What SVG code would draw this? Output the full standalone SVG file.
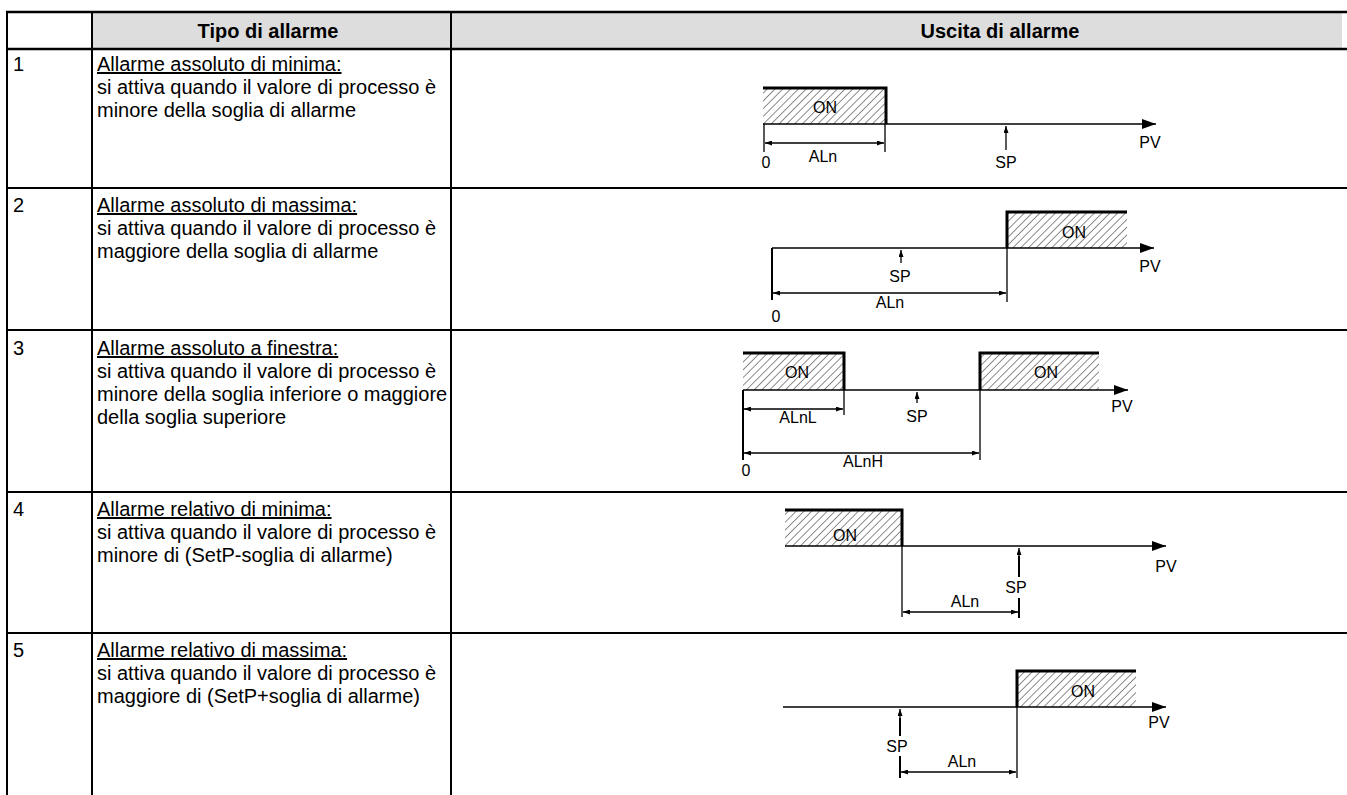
<svg xmlns="http://www.w3.org/2000/svg" width="1347" height="795" viewBox="0 0 1347 795">
<style>
.t{font-family:"Liberation Sans",Arial,sans-serif;font-size:20px;fill:#000}
.h{font-family:"Liberation Sans",Arial,sans-serif;font-size:20px;font-weight:bold;fill:#000;text-anchor:middle}
.u{text-decoration:underline}
.d{font-family:"Liberation Sans",Arial,sans-serif;font-size:16px;fill:#000;text-anchor:middle}
.b{stroke:#000;stroke-width:2.5;fill:none}
.g{stroke:#000;stroke-width:2;fill:none}
.thin{stroke:#000;stroke-width:1.3;fill:none}
.thk{stroke:#000;stroke-width:3;fill:none}
</style>
<defs>
<pattern id="hatch" patternUnits="userSpaceOnUse" width="5.5" height="5.5" patternTransform="rotate(45)">
<line x1="0" y1="0" x2="0" y2="5.5" stroke="#000" stroke-width="0.9"/>
</pattern>
<marker id="ax" markerUnits="userSpaceOnUse" markerWidth="14" markerHeight="10" refX="14" refY="5" orient="auto"><path d="M0,0 L14,5 L0,10 z" fill="#000"/></marker>
<marker id="dm" markerUnits="userSpaceOnUse" markerWidth="7" markerHeight="5" refX="7" refY="2.5" orient="auto-start-reverse"><path d="M0,0 L7,2.5 L0,5 z" fill="#000"/></marker>
</defs>
<g id="table">
<rect x="92" y="12" width="1250" height="37" fill="#dddddd"/>
<path class="b" d="M6,12 H1347 M6,49 H1347"/>
<path class="g" d="M6,188 H1347 M6,330 H1347 M6,492 H1347 M6,633 H1347"/>
<path class="g" d="M7,12 V795 M92,12 V795 M451,12 V795"/>
<text class="h" x="268" y="38">Tipo di allarme</text>
<text class="h" x="1000" y="38">Uscita di allarme</text>
</g>
<g id="row1">
<text class="t" x="13" y="71">1</text>
<text class="t u" x="97" y="71">Allarme assoluto di minima:</text>
<text class="t" x="97" y="94">si attiva quando il valore di processo è</text>
<text class="t" x="97" y="117">minore della soglia di allarme</text>
</g>
<g id="row2">
<text class="t" x="13" y="212">2</text>
<text class="t u" x="97" y="212">Allarme assoluto di massima:</text>
<text class="t" x="97" y="235">si attiva quando il valore di processo è</text>
<text class="t" x="97" y="258">maggiore della soglia di allarme</text>
</g>
<g id="row3">
<text class="t" x="13" y="355">3</text>
<text class="t u" x="97" y="355">Allarme assoluto a finestra:</text>
<text class="t" x="97" y="378">si attiva quando il valore di processo è</text>
<text class="t" x="97" y="401">minore della soglia inferiore o maggiore</text>
<text class="t" x="97" y="424">della soglia superiore</text>
</g>
<g id="row4">
<text class="t" x="13" y="516">4</text>
<text class="t u" x="97" y="516">Allarme relativo di minima:</text>
<text class="t" x="97" y="539">si attiva quando il valore di processo è</text>
<text class="t" x="97" y="562">minore di (SetP-soglia di allarme)</text>
</g>
<g id="row5">
<text class="t" x="13" y="657">5</text>
<text class="t u" x="97" y="657">Allarme relativo di massima:</text>
<text class="t" x="97" y="680">si attiva quando il valore di processo è</text>
<text class="t" x="97" y="703">maggiore di (SetP+soglia di allarme)</text>
</g>
<g id="diagram1">
<rect x="763" y="88" width="123" height="36" fill="url(#hatch)"/>
<path class="thk" d="M763,88 H886 V124"/>
<line class="thin" x1="763" y1="124" x2="1156" y2="124" marker-end="url(#ax)"/>
<path class="thin" d="M764,124 V152 M885,124 V152"/>
<line class="thin" x1="765" y1="143" x2="884" y2="143" marker-start="url(#dm)" marker-end="url(#dm)"/>
<line class="thin" x1="1006" y1="150" x2="1006" y2="126" marker-end="url(#dm)"/>
<text class="d" x="825" y="113">ON</text>
<text class="d" x="823" y="162">ALn</text>
<text class="d" x="766" y="168">0</text>
<text class="d" x="1006" y="168">SP</text>
<text class="d" x="1150" y="148">PV</text>
</g>
<g id="diagram2">
<rect x="1007" y="212" width="120" height="36" fill="url(#hatch)"/>
<path class="thk" d="M1007,248 V212 H1127"/>
<line class="thin" x1="772" y1="248" x2="1154" y2="248" marker-end="url(#ax)"/>
<path class="g" d="M772,248 V300"/>
<path class="thin" d="M1007,248 V302"/>
<line class="thin" x1="773" y1="293" x2="1006" y2="293" marker-start="url(#dm)" marker-end="url(#dm)"/>
<line class="thin" x1="901" y1="263" x2="901" y2="250" marker-end="url(#dm)"/>
<text class="d" x="1074" y="238">ON</text>
<text class="d" x="890" y="308">ALn</text>
<text class="d" x="776" y="322">0</text>
<text class="d" x="900" y="282">SP</text>
<text class="d" x="1150" y="272">PV</text>
</g>
<g id="diagram3">
<rect x="743" y="353" width="101" height="37" fill="url(#hatch)"/>
<rect x="980" y="353" width="119" height="37" fill="url(#hatch)"/>
<path class="thk" d="M743,353 H844 V390 M980,390 V353 H1099"/>
<line class="thin" x1="743" y1="390" x2="1128" y2="390" marker-end="url(#ax)"/>
<path class="g" d="M743,390 V460"/>
<path class="thin" d="M844,390 V415 M980,390 V460"/>
<line class="thin" x1="744" y1="409" x2="843" y2="409" marker-start="url(#dm)" marker-end="url(#dm)"/>
<line class="thin" x1="744" y1="453" x2="979" y2="453" marker-start="url(#dm)" marker-end="url(#dm)"/>
<line class="thin" x1="917" y1="403" x2="917" y2="392" marker-end="url(#dm)"/>
<text class="d" x="797" y="378">ON</text>
<text class="d" x="1046" y="378">ON</text>
<text class="d" x="798" y="423">ALnL</text>
<text class="d" x="863" y="467">ALnH</text>
<text class="d" x="746" y="476">0</text>
<text class="d" x="917" y="422">SP</text>
<text class="d" x="1122" y="412">PV</text>
</g>
<g id="diagram4">
<rect x="785" y="510" width="117" height="36" fill="url(#hatch)"/>
<path class="thk" d="M785,510 H902 V546"/>
<line class="thin" x1="785" y1="546" x2="1166" y2="546" marker-end="url(#ax)"/>
<path class="thin" d="M902,546 V617"/>
<path class="g" d="M1019,618 V598 M1019,577 V556"/>
<line class="thin" x1="1019" y1="560" x2="1019" y2="548" marker-end="url(#dm)"/>
<line class="thin" x1="903" y1="612" x2="1018" y2="612" marker-start="url(#dm)" marker-end="url(#dm)"/>
<text class="d" x="845" y="541">ON</text>
<text class="d" x="965" y="607">ALn</text>
<text class="d" x="1016" y="593">SP</text>
<text class="d" x="1166" y="572">PV</text>
</g>
<g id="diagram5">
<rect x="1017" y="671" width="119" height="36" fill="url(#hatch)"/>
<path class="thk" d="M1017,707 V671 H1136"/>
<line class="thin" x1="783" y1="707" x2="1166" y2="707" marker-end="url(#ax)"/>
<path class="g" d="M900,778 V756 M900,736 V718"/>
<line class="thin" x1="900" y1="720" x2="900" y2="709" marker-end="url(#dm)"/>
<path class="thin" d="M1017,707 V778"/>
<line class="thin" x1="901" y1="772" x2="1016" y2="772" marker-start="url(#dm)" marker-end="url(#dm)"/>
<text class="d" x="1083" y="697">ON</text>
<text class="d" x="962" y="767">ALn</text>
<text class="d" x="897" y="752">SP</text>
<text class="d" x="1159" y="728">PV</text>
</g>
</svg>
